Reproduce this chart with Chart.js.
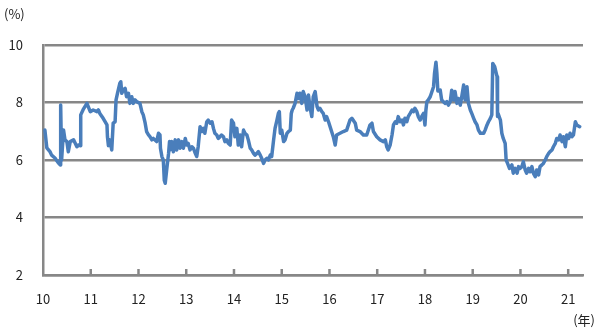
<!DOCTYPE html>
<html>
<head>
<meta charset="utf-8">
<script src="https://cdn.jsdelivr.net/npm/chart.js@4"></script>
<style>
  html, body { margin: 0; padding: 0; background: #fff; }
  #wrap { width: 600px; height: 333px; position: relative; }
</style>
</head>
<body>
<div id="wrap"><canvas id="rateChart"></canvas></div>
<script>
// x = year (two digits, decimal), y = rate (%)
const dates = [
  10.04,10.08,10.15,10.18,10.25,10.32,10.36,10.37,10.39,10.43,
  10.46,10.50,10.53,10.57,10.64,10.67,10.71,10.74,10.78,10.79,
  10.84,10.92,10.99,11.05,11.13,11.16,11.19,11.26,11.34,11.35,
  11.37,11.40,11.44,11.47,11.51,11.53,11.56,11.61,11.63,11.65,
  11.68,11.72,11.75,11.79,11.82,11.86,11.89,11.93,11.96,12.03,
  12.07,12.10,12.14,12.17,12.21,12.24,12.28,12.31,12.38,12.42,
  12.45,12.46,12.49,12.52,12.54,12.56,12.59,12.63,12.65,12.66,
  12.70,12.73,12.77,12.80,12.84,12.87,12.91,12.94,12.98,13.01,
  13.04,13.08,13.12,13.15,13.19,13.22,13.25,13.29,13.33,13.36,
  13.39,13.43,13.46,13.50,13.54,13.57,13.60,13.64,13.67,13.71,
  13.74,13.78,13.81,13.85,13.88,13.92,13.95,13.99,14.02,14.06,
  14.09,14.13,14.16,14.20,14.23,14.27,14.30,14.34,14.37,14.41,
  14.44,14.48,14.51,14.55,14.58,14.62,14.65,14.69,14.72,14.76,
  14.79,14.83,14.86,14.90,14.93,14.95,14.97,15.00,15.04,15.07,
  15.11,15.14,15.18,15.20,15.22,15.24,15.28,15.32,15.35,15.38,
  15.42,15.45,15.49,15.53,15.56,15.59,15.63,15.66,15.70,15.74,
  15.77,15.80,15.84,15.87,15.91,15.94,15.98,16.08,16.12,16.15,
  16.22,16.29,16.36,16.43,16.47,16.54,16.57,16.64,16.71,16.78,
  16.85,16.89,16.92,16.99,17.06,17.13,17.17,17.20,17.23,17.27,
  17.31,17.34,17.38,17.41,17.44,17.48,17.52,17.55,17.58,17.62,
  17.65,17.69,17.73,17.76,17.79,17.83,17.86,17.90,17.93,17.97,
  18.00,18.02,18.04,18.07,18.11,18.14,18.18,18.20,18.23,18.25,
  18.27,18.32,18.35,18.42,18.46,18.49,18.53,18.56,18.60,18.63,
  18.67,18.70,18.74,18.77,18.81,18.84,18.88,18.91,18.95,18.98,
  19.02,19.05,19.09,19.12,19.16,19.23,19.26,19.30,19.33,19.37,
  19.40,19.42,19.46,19.51,19.52,19.53,19.58,19.61,19.64,19.68,
  19.70,19.73,19.77,19.82,19.85,19.89,19.93,19.96,19.99,20.03,
  20.06,20.10,20.13,20.17,20.20,20.24,20.27,20.31,20.34,20.38,
  20.41,20.45,20.48,20.52,20.55,20.59,20.62,20.66,20.69,20.73,
  20.76,20.80,20.83,20.87,20.90,20.94,20.97,21.01,21.04,21.08,
  21.11,21.15,21.18,21.24
];

const rates = [
  7.04,6.42,6.28,6.17,6.07,5.90,5.83,7.91,6.00,7.04,
  6.70,6.64,6.29,6.64,6.70,6.60,6.46,6.52,6.50,7.57,
  7.75,7.97,7.68,7.74,7.68,7.74,7.62,7.45,7.22,6.81,
  6.50,6.70,6.35,7.28,7.33,8.09,8.32,8.67,8.72,8.32,
  8.43,8.49,8.20,8.32,7.97,8.20,7.97,8.09,8.03,7.97,
  7.68,7.57,7.28,6.99,6.87,6.81,6.70,6.75,6.64,6.93,
  6.87,6.41,6.12,6.00,5.30,5.19,5.65,6.23,6.64,6.35,
  6.64,6.29,6.70,6.35,6.70,6.41,6.64,6.41,6.75,6.52,
  6.58,6.35,6.46,6.41,6.23,6.12,6.46,7.16,6.99,7.10,
  6.93,7.33,7.39,7.28,7.33,7.10,6.93,6.87,6.75,6.81,
  6.87,6.81,6.64,6.70,6.58,6.52,7.39,7.28,6.81,7.10,
  6.52,6.87,6.46,7.04,6.93,6.87,6.70,6.41,6.35,6.23,
  6.17,6.23,6.29,6.17,6.06,5.88,6.00,6.06,6.00,6.17,
  6.12,6.70,7.10,7.39,7.62,7.68,6.93,7.04,6.64,6.70,
  6.93,6.99,7.04,7.62,7.74,7.80,7.97,8.32,8.14,8.32,
  7.97,8.38,8.20,7.74,8.26,7.86,7.51,8.20,8.38,7.86,
  7.74,7.80,7.68,7.62,7.39,7.51,7.33,6.81,6.52,6.87,
  6.93,6.99,7.04,7.39,7.45,7.28,7.04,6.99,6.87,6.87,
  7.22,7.28,6.99,6.81,6.70,6.64,6.70,6.46,6.35,6.52,
  6.87,7.22,7.33,7.28,7.51,7.33,7.39,7.22,7.45,7.33,
  7.51,7.62,7.74,7.68,7.80,7.68,7.51,7.39,7.51,7.62,
  7.22,7.74,8.03,8.09,8.20,8.35,8.55,9.01,9.40,9.01,
  8.40,8.43,8.09,7.97,8.03,7.91,8.03,8.43,8.09,8.38,
  7.97,8.14,7.91,8.20,8.61,8.09,8.55,7.97,7.74,7.62,
  7.45,7.33,7.22,7.04,6.93,6.93,7.04,7.22,7.33,7.45,
  7.57,9.36,9.25,8.90,7.51,7.62,7.39,6.93,6.75,6.58,
  6.00,5.88,5.71,5.83,5.54,5.71,5.54,5.77,5.71,5.77,
  5.94,5.65,5.54,5.71,5.59,5.77,5.54,5.42,5.65,5.48,
  5.77,5.83,5.88,6.00,6.12,6.23,6.29,6.35,6.46,6.58,
  6.75,6.70,6.87,6.64,6.81,6.46,6.87,6.75,6.93,6.81,
  6.87,7.33,7.22,7.16
];

const yearTicks = [10, 11, 12, 13, 14, 15, 16, 17, 18, 19, 20, 21];
const yTicks = [2, 4, 6, 8, 10];

const AXIS_GRAY = '#878787';
const LINE_BLUE = '#4a7ebb';
const TEXT = '#222';
const FONT = '"Noto Sans CJK JP", "DejaVu Sans", sans-serif';

const extras = {
    id: 'extras',
    afterDraw(chart) {
        const { ctx, chartArea } = chart;
        const x = chart.scales.x;
        ctx.save();
        // small inward tick marks on the x axis
        ctx.strokeStyle = AXIS_GRAY;
        ctx.lineWidth = 2.5;
        yearTicks.slice(1).forEach(v => {
            const px = x.getPixelForValue(v);
            ctx.beginPath();
            ctx.moveTo(px, chartArea.bottom);
            ctx.lineTo(px, chartArea.bottom - 6);
            ctx.stroke();
        });
        // unit labels
        ctx.fillStyle = TEXT;
        ctx.font = '13px ' + FONT;
        ctx.textBaseline = 'middle';
        ctx.textAlign = 'left';
        ctx.fillText('(%)', 4, 14);
        ctx.textAlign = 'right';
        ctx.fillText('(年)', 595, 320);
        ctx.restore();
    }
};

const ctx = document.getElementById('rateChart').getContext('2d');
new Chart(ctx, {
    type: 'line',
    data: {
        datasets: [{
            data: dates.map((d, i) => ({ x: d, y: rates[i] })),
            borderColor: LINE_BLUE,
            borderWidth: 3.5,
            pointRadius: 0,
            tension: 0,
            borderJoinStyle: 'round',
            borderCapStyle: 'round'
        }]
    },
    options: {
        responsive: true,
        maintainAspectRatio: false,
        animation: false,
        events: [],
        layout: { padding: { left: 0, right: 17, top: 45, bottom: 0 } },
        plugins: {
            legend: { display: false },
            tooltip: { enabled: false }
        },
        scales: {
            x: {
                type: 'linear',
                min: 10,
                max: 21.31,
                afterFit(scale) { scale.height = 58; },
                afterBuildTicks(scale) {
                    scale.ticks = yearTicks.map(v => ({ value: v }));
                },
                grid: { display: false },
                border: { display: true, color: AXIS_GRAY, width: 2.5 },
                ticks: {
                    padding: 8,
                    color: TEXT,
                    font: { family: FONT, size: 13 },
                    maxRotation: 0,
                    autoSkip: false,
                    callback: v => String(v)
                }
            },
            y: {
                min: 2,
                max: 10,
                afterFit(scale) { scale.width = 43; },
                afterBuildTicks(scale) {
                    scale.ticks = yTicks.map(v => ({ value: v }));
                },
                grid: { color: AXIS_GRAY, lineWidth: 2.5, drawTicks: false },
                border: { display: true, color: AXIS_GRAY, width: 2.5 },
                ticks: {
                    padding: 20,
                    color: TEXT,
                    font: { family: FONT, size: 13 },
                    callback: v => String(v)
                }
            }
        }
    },
    plugins: [extras]
});
</script>
</body>
</html>
